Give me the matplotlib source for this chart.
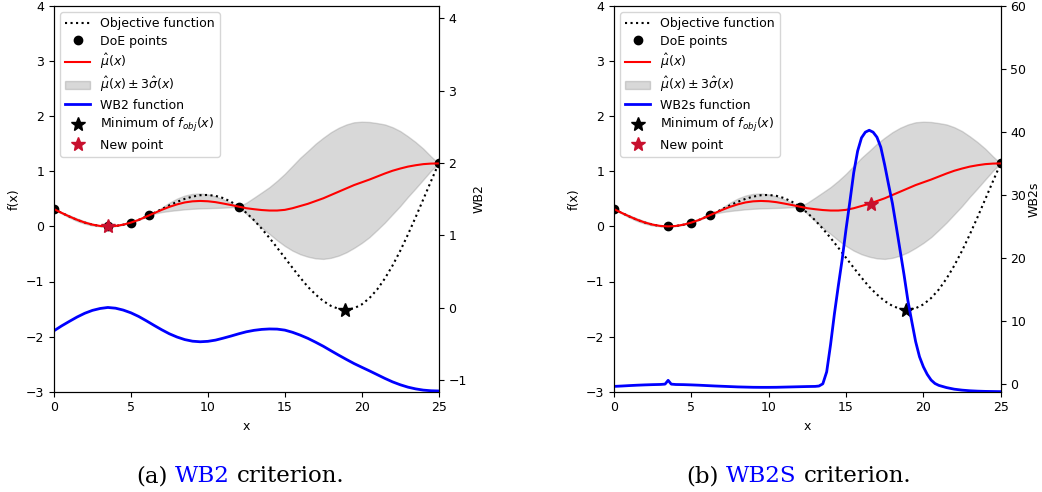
import numpy as np
import matplotlib.pyplot as plt

plt.rcParams['font.size'] = 9

# sample locations of the smooth curves
x_grid = [0, 0.5, 1, 1.5, 2, 2.5, 3, 3.5, 4, 4.5, 5, 5.5, 6, 6.5, 7, 7.5, 8, 8.5, 9, 9.5,
          10, 10.5, 11, 11.5, 12, 12.5, 13, 13.5, 14, 14.5, 15, 15.5, 16, 16.5, 17, 17.5,
          18, 18.5, 19, 19.5, 20, 20.5, 21, 21.5, 22, 22.5, 23, 23.5, 24, 24.5, 25]

# objective function
f_obj = [0.314, 0.245, 0.179, 0.119, 0.069, 0.031, 0.008, 0.0, 0.008, 0.031, 0.069, 0.119,
         0.179, 0.245, 0.314, 0.383, 0.446, 0.500, 0.541, 0.566, 0.571, 0.554, 0.514, 0.448,
         0.359, 0.246, 0.112, -0.042, -0.209, -0.386, -0.569, -0.752, -0.930, -1.097, -1.236,
         -1.355, -1.443, -1.497, -1.512, -1.486, -1.416, -1.301, -1.145, -0.946, -0.711,
         -0.443, -0.148, 0.166, 0.492, 0.820, 1.143]

# kriging mean and 3 sigma half width
mu_hat = [0.314, 0.245, 0.180, 0.120, 0.070, 0.032, 0.008, 0.0, 0.008, 0.032, 0.069, 0.118,
          0.178, 0.240, 0.300, 0.355, 0.400, 0.435, 0.455, 0.462, 0.456, 0.440, 0.415, 0.388,
          0.359, 0.330, 0.312, 0.297, 0.288, 0.288, 0.300, 0.330, 0.370, 0.410, 0.460, 0.510,
          0.570, 0.630, 0.690, 0.750, 0.800, 0.850, 0.905, 0.960, 1.010, 1.050, 1.085, 1.110,
          1.130, 1.140, 1.143]
three_sigma = [0, 0.012, 0.020, 0.024, 0.022, 0.016, 0.007, 0, 0.002, 0.003, 0, 0.001, 0.001,
               0.010, 0.040, 0.075, 0.105, 0.125, 0.135, 0.135, 0.125, 0.105, 0.075, 0.040, 0,
               0.10, 0.21, 0.32, 0.425, 0.54, 0.655, 0.77, 0.875, 0.96, 1.04, 1.10, 1.14, 1.16,
               1.16, 1.14, 1.10, 1.045, 0.97, 0.89, 0.79, 0.68, 0.55, 0.42, 0.28, 0.13, 0]

# WB2 criterion
wb2 = [-0.318, -0.250, -0.188, -0.128, -0.076, -0.036, -0.010, 0.004, -0.006, -0.032, -0.070,
       -0.120, -0.180, -0.243, -0.304, -0.360, -0.405, -0.440, -0.462, -0.470, -0.464, -0.447,
       -0.420, -0.391, -0.360, -0.332, -0.312, -0.299, -0.293, -0.295, -0.309, -0.339, -0.378,
       -0.423, -0.476, -0.532, -0.594, -0.655, -0.714, -0.771, -0.822, -0.872, -0.924, -0.976,
       -1.024, -1.064, -1.097, -1.121, -1.138, -1.147, -1.150]

# WB2s criterion (finer sampling around the peak)
wb2s_x = [0, 0.5, 1, 1.5, 2, 2.5, 3, 3.3, 3.5, 3.7, 4, 4.5, 5, 5.5, 6, 6.5, 7, 7.5, 8, 8.5,
          9, 9.5, 10, 10.5, 11, 11.5, 12, 12.5, 13, 13.25, 13.5, 13.75, 14, 14.25, 14.5, 14.75,
          15, 15.25, 15.5, 15.75, 16, 16.25, 16.5, 16.75, 17, 17.25, 17.5, 17.75, 18, 18.25,
          18.5, 18.75, 19, 19.25, 19.5, 19.75, 20, 20.25, 20.5, 20.75, 21, 21.5, 22, 22.5, 23,
          23.5, 24, 24.5, 25]
wb2s = [-0.31, -0.25, -0.18, -0.12, -0.07, -0.03, 0.0, 0.05, 0.65, 0.05, -0.01, -0.03, -0.07,
        -0.12, -0.18, -0.24, -0.29, -0.34, -0.39, -0.42, -0.45, -0.46, -0.46, -0.45, -0.42,
        -0.39, -0.36, -0.33, -0.31, -0.25, 0.1, 2.0, 6.3, 11.2, 15.6, 19.8, 24.6, 29.0, 33.6,
        37.0, 39.1, 40.0, 40.3, 40.0, 39.2, 37.6, 34.8, 31.7, 28.7, 25.0, 21.2, 17.4, 13.3,
        10.0, 6.8, 4.4, 2.8, 1.6, 0.7, 0.15, -0.15, -0.5, -0.75, -0.9, -1.0, -1.06, -1.1,
        -1.12, -1.14]

# design of experiments
doe_x = [0, 3.5, 5, 6.2, 12, 25]
doe_y = [0.314, 0.0, 0.069, 0.205, 0.359, 1.143]

# true minimum and enriched points
min_x, min_f = 18.9, -1.512
new_wb2 = (3.5, 0.0)
new_wb2s = (16.6, 0.415)

red_star = '#c8102e'

fig = plt.figure(figsize=(10.42, 4.92), dpi=100)


def draw_panel(rect, crit_x, crit_y, crit_name, crit_lim, new_pt, pad=4):
    ax = fig.add_axes(rect)
    l_obj, = ax.plot(x_grid, f_obj, ':', color='black', lw=1.5)
    l_doe, = ax.plot(doe_x, doe_y, 'o', color='black', ms=6)
    l_mu, = ax.plot(x_grid, mu_hat, color='red', lw=1.5)
    mu = np.array(mu_hat)
    s3 = np.array(three_sigma)
    band = ax.fill_between(x_grid, mu - s3, mu + s3, color='grey', alpha=0.3)
    l_min, = ax.plot(min_x, min_f, '*', color='black', ms=10)
    l_new, = ax.plot(new_pt[0], new_pt[1], '*', color=red_star, ms=10)
    ax.set_xlim(0, 25)
    ax.set_ylim(-3, 4)
    ax.set_xlabel('x')
    ax.set_ylabel('f(x)')

    # criterion on its own scale
    ax2 = ax.twinx()
    l_crit, = ax2.plot(crit_x, crit_y, color='blue', lw=2)
    ax2.set_ylim(*crit_lim)
    ax2.set_ylabel(crit_name, labelpad=pad)

    handles = [l_obj, l_doe, l_mu, band, l_crit, l_min, l_new]
    labels = ['Objective function', 'DoE points', r'$\hat{\mu}(x)$',
              r'$\hat{\mu}(x) \pm 3\hat{\sigma}(x)$', crit_name + ' function',
              r'Minimum of $f_{obj}(x)$', 'New point']
    ax2.legend(handles, labels, loc='upper left', labelspacing=0.35)
    return ax, ax2


def caption(center_px, parts):
    # parts: list of (text, colour); drawn side by side and centred
    kw = dict(fontsize=16.5, family='DejaVu Serif', va='baseline', ha='left')
    y = 1 - 482 / 492
    texts = [fig.text(0, y, s, color=c, **kw) for s, c in parts]
    renderer = fig.canvas.get_renderer()
    widths = [t.get_window_extent(renderer).width for t in texts]
    gap = 0.318 * 16.5 * 100 / 72
    total = sum(widths) + gap * (len(texts) - 1)
    x = center_px - total / 2
    for t, w in zip(texts, widths):
        t.set_x(x / 1042)
        x += w + gap


draw_panel([54 / 1042, 1 - 391.7 / 492, 384.7 / 1042, 385.7 / 492],
           x_grid, wb2, 'WB2', (-1.16, 4.17), new_wb2)
draw_panel([614 / 1042, 1 - 391.7 / 492, 386.7 / 1042, 385.7 / 492],
           wb2s_x, wb2s, 'WB2s', (-1.15, 60), new_wb2s, pad=1)

caption(240, [('(a)', 'black'), ('WB2', 'blue'), ('criterion.', 'black')])
caption(799, [('(b)', 'black'), ('WB2S', 'blue'), ('criterion.', 'black')])

plt.savefig('out.png', dpi=100)
